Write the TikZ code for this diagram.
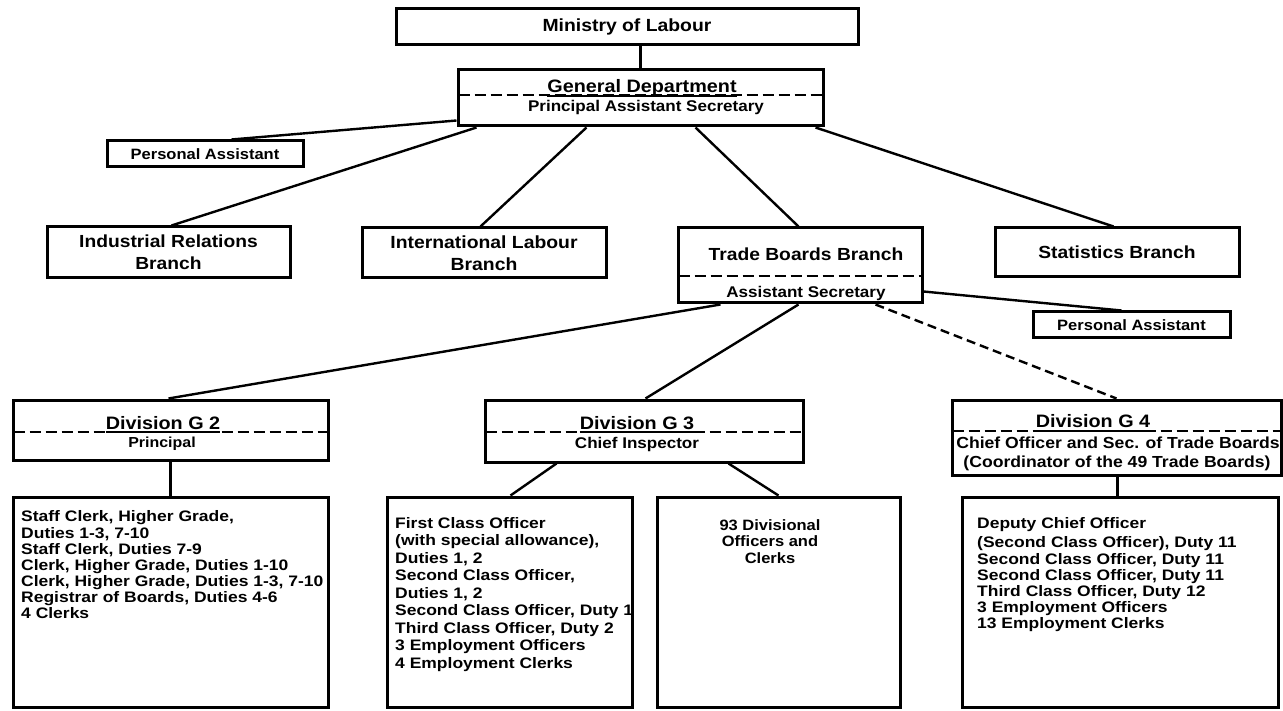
\documentclass[tikz,border=0pt]{standalone}
\usepackage{fontspec}
\setmainfont{Liberation Sans}[FakeStretch=1.1]
\newfontfamily\listfont{Liberation Sans}[FakeStretch=1.15]
\usetikzlibrary{calc}
\newcommand{\fs}[1]{\bfseries\fontsize{#1}{#1}\selectfont}
\begin{document}
\begin{tikzpicture}[x=1pt,y=-1pt,
  box/.style={draw, line width=3pt, inner sep=0pt, fill=white},
  conn/.style={line width=2.4pt},
  sep/.style={line width=2pt, dash pattern=on 11pt off 5pt},
  lbl/.style={inner sep=0pt, anchor=base},
  list/.style={inner sep=0pt, anchor=north west, align=left, font={\listfont\bfseries\fontsize{15.2}{16}\selectfont}}
]
\useasboundingbox[fill=white] (0,0) rectangle (1283,711);

% boxes
\node[box, minimum width=462pt, minimum height=36pt, font=\fs{17.6}] (min) at (627,27) {Ministry of Labour};
\node[box, minimum width=365pt, minimum height=56pt] (gen) at (640.5,98) {};
\node[box, minimum width=196pt, minimum height=26pt, font=\fs{15}] (pa1) at (205,154) {Personal Assistant};
\node[box, minimum width=243pt, minimum height=51pt, align=center, font={\bfseries\fontsize{17.5}{22}\selectfont}] (ind) at (168.5,252.5) {Industrial Relations\\Branch};
\node[box, minimum width=244pt, minimum height=50pt, align=center, font={\bfseries\fontsize{17.6}{22}\selectfont}] (intl) at (484,253) {International Labour\\Branch};
\node[box, minimum width=244pt, minimum height=75pt] (tb) at (800,265.5) {};
\node[box, minimum width=244pt, minimum height=49pt, font=\fs{17.5}] (stat) at (1117,252.5) {Statistics Branch};
\node[box, minimum width=197pt, minimum height=26pt, font=\fs{15}] (pa2) at (1131.5,325) {Personal Assistant};
\node[box, minimum width=315pt, minimum height=60pt] (g2) at (170.5,430) {};
\node[box, minimum width=318pt, minimum height=62pt] (g3) at (644,431) {};
\node[box, minimum width=329pt, minimum height=75pt] (g4) at (1116.5,437.5) {};
\node[box, minimum width=315pt, minimum height=210pt] (c2) at (170.5,602) {};
\node[box, minimum width=245pt, minimum height=210pt] (c3a) at (509.5,602) {};
\node[box, minimum width=243pt, minimum height=210pt] (c3b) at (778.5,602) {};
\node[box, minimum width=316pt, minimum height=210pt] (c4) at (1120,602) {};

% separators
\draw[sep] ($(gen.north west)+(2,27)$) -- ($(gen.north east)+(-2,27)$);
\draw[sep] ($(tb.north west)+(2,50)$) -- ($(tb.north east)+(-2,50)$);
\draw[sep] ($(g2.north west)+(2,33)$) -- ($(g2.north east)+(-2,33)$);
\draw[sep] ($(g3.north west)+(2,33)$) -- ($(g3.north east)+(-2,33)$);
\draw[sep] ($(g4.north west)+(2,32)$) -- ($(g4.north east)+(-2,32)$);

% titles
\node[lbl, font=\fs{18}] (gent) at (642,93) {General Department};
\node[lbl, font=\fs{15.5}] (gens) at (646,112) {Principal Assistant Secretary};
\node[lbl, font=\fs{17.5}] (tbt) at (806,261) {Trade Boards Branch};
\node[lbl, font=\fs{15.5}] (tbs) at (806,298) {Assistant Secretary};
\node[lbl, font=\fs{18}] (g2t) at (163,429) {Division G 2};
\node[lbl, font=\fs{14.5}] (g2s) at (162,447) {Principal};
\node[lbl, font=\fs{18}] (g3t) at (637,429) {Division G 3};
\node[lbl, font=\fs{15.5}] (g3s) at (637,448) {Chief Inspector};
\node[lbl, font=\fs{18}] (g4t) at (1093,428) {Division G 4};
\node[lbl, font=\fs{16}] (g4s) at (1118,448) {Chief Officer and Sec. of Trade Boards};
\node[lbl, font=\fs{16}] (g4c) at (1117,467) {(Coordinator of the 49 Trade Boards)};

% underlines
\foreach \n in {gent,g2t,g3t,g4t}{
  \draw[line width=2pt] ($(\n.base west)+(0,3)$) -- ($(\n.base east)+(0,3)$);
}

% lists
\node[list] (c2t) at (21,510) {Staff Clerk, Higher Grade,\\[1pt]
Duties 1-3, 7-10\\
Staff Clerk, Duties 7-9\\
Clerk, Higher Grade, Duties 1-10\\
Clerk, Higher Grade, Duties 1-3, 7-10\\
Registrar of Boards, Duties 4-6\\
4 Clerks};
\node[list, font={\listfont\bfseries\fontsize{15.2}{17.5}\selectfont}] (c3at) at (395,517) {First Class Officer\\
(with special allowance),\\
Duties 1, 2\\
Second Class Officer,\\
Duties 1, 2\\
Second Class Officer, Duty 1\\
Third Class Officer, Duty 2\\
3 Employment Officers\\
4 Employment Clerks};
\node[inner sep=0pt, anchor=north, align=center, font={\bfseries\fontsize{15}{16.5}\selectfont}] (c3bt) at (770,519) {93 Divisional\\Officers and\\Clerks};
\node[list] (c4t) at (977,517) {Deputy Chief Officer\\[3pt]
(Second Class Officer), Duty 11\\[1pt]
Second Class Officer, Duty 11\\
Second Class Officer, Duty 11\\
Third Class Officer, Duty 12\\
3 Employment Officers\\
13 Employment Clerks};

% connectors
\draw[conn] (gen.north |- min.south) -- (gen.north);
\draw[conn] ($(gen.south west)+(0,-7)$) -- ($(pa1.north west)+(126,0)$);
\draw[conn] ($(gen.south west)+(20,0)$) -- ($(ind.north west)+(126,0)$);
\draw[conn] ($(gen.south west)+(130,0)$) -- ($(intl.north west)+(120,0)$);
\draw[conn] ($(gen.south west)+(239,0)$) -- ($(tb.north west)+(122,0)$);
\draw[conn] ($(gen.south west)+(359,0)$) -- ($(stat.north west)+(120,0)$);
\draw[conn] ($(tb.south east)+(0,-13)$) -- ($(pa2.north west)+(90,0)$);
\draw[conn] ($(tb.south west)+(44,0)$) -- ($(g2.north west)+(157,0)$);
\draw[conn] ($(tb.south west)+(122,0)$) -- ($(g3.north west)+(162,0)$);
\draw[conn, dash pattern=on 9pt off 5pt] ($(tb.south west)+(199,0)$) -- ($(g4.north west)+(166,0)$);
\draw[conn] (g2.south) -- (g2.south |- c2.north);
\draw[conn] ($(g3.south west)+(73,0)$) -- ($(c3a.north west)+(125,0)$);
\draw[conn] ($(g3.south west)+(245,0)$) -- ($(c3b.north west)+(123,0)$);
\draw[conn] ($(g4.south west)+(167,0)$) -- ($(c4.north west)+(157,0)$);
\end{tikzpicture}
\end{document}
